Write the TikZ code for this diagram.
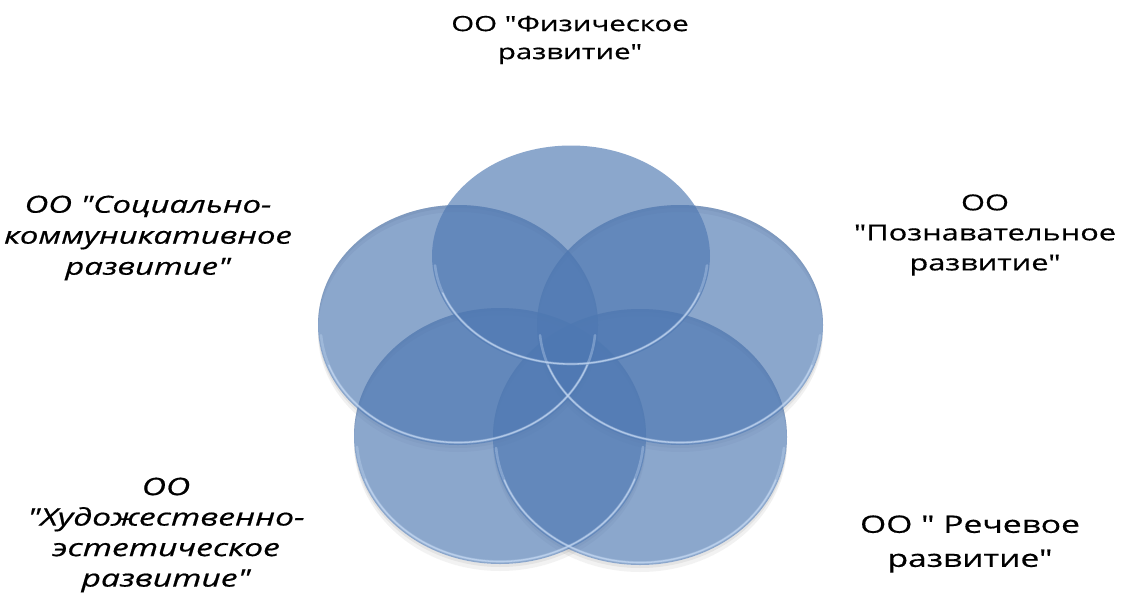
\documentclass[tikz,border=0pt]{standalone}
\usepackage{fontspec}
\newfontfamily\lblfont[FakeStretch=1.4, FakeBold=0.6]{Open Sans}
\usetikzlibrary{shapes.geometric}
\definecolor{diskblue}{RGB}{78,120,178}
\definecolor{rimlight}{RGB}{196,216,242}
\definecolor{shade}{RGB}{90,90,100}
\begin{document}
\begin{tikzpicture}[x=1pt,y=-1pt]
\tikzset{
  disk/.style={ellipse, draw=none, fill=diskblue, fill opacity=0.65, inner sep=0pt, outer sep=0pt},
  rimwide/.style={draw=rimlight, line width=2.6pt, draw opacity=0.35, line cap=round},
  rimthin/.style={draw=rimlight, line width=1.3pt, draw opacity=0.75, line cap=round},
  lbl/.style={align=center, text=black, inner sep=0pt},
}
\useasboundingbox[fill=white] (0,0) rectangle (1125,616);
% soft shadows below the discs
\foreach \cx/\cy/\rx/\ry in {500/436/146/128, 640/437/147/128, 458/325/140/120, 680/325/143/120}{
  \fill[shade, fill opacity=0.05, even odd rule]
    (\cx,\cy+7) ellipse[x radius=\rx, y radius=\ry] (\cx,\cy) ellipse[x radius=\rx, y radius=\ry];
  \fill[shade, fill opacity=0.06, even odd rule]
    (\cx,\cy+3) ellipse[x radius=\rx, y radius=\ry] (\cx,\cy) ellipse[x radius=\rx, y radius=\ry];
}
% discs
\node[disk, minimum width=278pt, minimum height=221pt] (fiz) at (571,256) {};
\node[disk, minimum width=286pt, minimum height=240pt] (poz) at (680,325) {};
\node[disk, minimum width=294pt, minimum height=256pt] (rech) at (640,437) {};
\node[disk, minimum width=292pt, minimum height=256pt] (hud) at (500,436) {};
\node[disk, minimum width=280pt, minimum height=240pt] (soc) at (458,325) {};
% rims (light edge along the lower side of each disc)
\foreach \n/\rx/\ry in {fiz/139/110.5, poz/143/120, rech/147/128, hud/146/128, soc/140/120}{
  \draw[rimwide] (\n.center) ++(5:\rx-2.5 and \ry-2.5) arc[start angle=5, end angle=175, x radius=\rx-2.5, y radius=\ry-2.5];
  \draw[rimthin] (\n.center) ++(20:\rx-2.5 and \ry-2.5) arc[start angle=20, end angle=160, x radius=\rx-2.5, y radius=\ry-2.5];
}
% labels
\node[lbl, font=\lblfont\fontsize{21}{28}\selectfont] (tfiz) at (570,40) {ОО "Физическое\\развитие"};
\node[lbl, font=\lblfont\fontsize{23.5}{31}\selectfont\itshape] (tsoc) at (148,238) {ОО "Социально-\\коммуникативное\\развитие"};
\node[lbl, font=\lblfont\fontsize{22}{30}\selectfont] (tpoz) at (985,235) {ОО\\"Познавательное\\развитие"};
\node[lbl, font=\lblfont\fontsize{24}{30.5}\selectfont\itshape] (thud) at (166,535) {ОО\\"Художественно-\\эстетическое\\развитие"};
\node[lbl, font=\lblfont\fontsize{24}{34}\selectfont] (trech) at (970,544) {ОО " Речевое\\развитие"};
\end{tikzpicture}
\end{document}
